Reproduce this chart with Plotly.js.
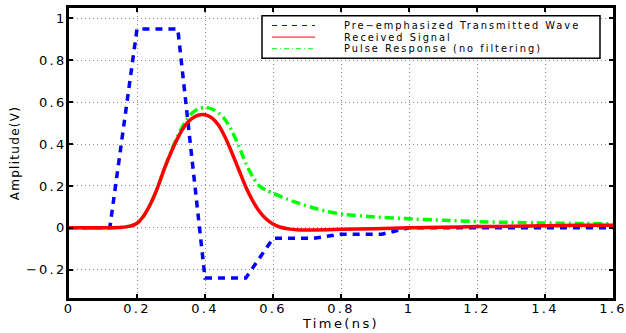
<!DOCTYPE html>
<html>
<head>
<meta charset="utf-8">
<script src="https://cdn.plot.ly/plotly-3.0.1.min.js"></script>
<style>
html,body{margin:0;padding:0;background:#fff;}
#chart{width:626px;height:333px;}
.xtick text, .ytick text { letter-spacing: 2.2px; }
.g-xtitle text { letter-spacing: 2.4px; }
.g-ytitle text { letter-spacing: 1.3px; }
.annotation-text { letter-spacing: 2px; }
</style>
</head>
<body>
<div id="chart"></div>
<script>
// Pre-emphasized transmitted wave (piecewise linear)
var txTime = [0, 0.12, 0.2, 0.32, 0.4, 0.52, 0.6, 0.72, 0.8, 0.92, 1.0, 1.6];
var txAmp  = [0, 0, 0.95, 0.95, -0.24, -0.24, -0.05, -0.05, -0.03, -0.03, 0, 0];

// Received signal
var rxTime = [0, 0.1, 0.15, 0.18, 0.2, 0.22, 0.24, 0.26, 0.28, 0.3, 0.32, 0.34, 0.36, 0.38, 0.4,
              0.42, 0.44, 0.46, 0.48, 0.5, 0.52, 0.54, 0.56, 0.58, 0.6, 0.62, 0.65, 0.68, 0.72,
              0.8, 0.9, 1.0, 1.1, 1.2, 1.3, 1.4, 1.5, 1.6];
var rxAmp  = [0, 0, 0.002, 0.008, 0.022, 0.058, 0.115, 0.19, 0.28, 0.36, 0.43, 0.485, 0.52, 0.538, 0.54,
              0.525, 0.49, 0.43, 0.355, 0.275, 0.195, 0.13, 0.078, 0.042, 0.018, 0.004, -0.006, -0.01, -0.01,
              -0.007, -0.004, 0, 0.003, 0.006, 0.008, 0.01, 0.012, 0.013];

// Pulse response (no filtering)
var prTime = [0, 0.1, 0.15, 0.18, 0.2, 0.22, 0.24, 0.26, 0.28, 0.3, 0.32, 0.34, 0.36, 0.38, 0.4,
              0.42, 0.44, 0.46, 0.48, 0.5, 0.52, 0.54, 0.56, 0.58, 0.6, 0.64, 0.68, 0.72, 0.76,
              0.8, 0.9, 1.0, 1.1, 1.2, 1.3, 1.4, 1.5, 1.6];
var prAmp  = [0, 0, 0.002, 0.008, 0.022, 0.058, 0.115, 0.19, 0.28, 0.365, 0.44, 0.5, 0.545, 0.568, 0.575,
              0.568, 0.548, 0.515, 0.46, 0.39, 0.308, 0.245, 0.2, 0.18, 0.165, 0.138, 0.115, 0.095, 0.078,
              0.066, 0.052, 0.043, 0.036, 0.03, 0.026, 0.023, 0.021, 0.019];

var seriesNames = ['Pre\u2212emphasized Transmitted Wave', 'Received Signal', 'Pulse Response (no filtering)'];
var seriesColors = ['#0000ff', '#ff0000', '#00ff00'];
var xTicks = [0, 0.2, 0.4, 0.6, 0.8, 1, 1.2, 1.4, 1.6];
var yTicks = [-0.2, 0, 0.2, 0.4, 0.6, 0.8, 1];

var fontFam = 'DejaVu Sans, Liberation Sans, Arial, sans-serif';

var traces = [
  {x: txTime, y: txAmp, mode: 'lines', showlegend: false, name: seriesNames[0],
   line: {color: seriesColors[0], width: 3.5, dash: '7px,6px'}},
  {x: prTime, y: prAmp, mode: 'lines', showlegend: false, name: seriesNames[2],
   line: {color: seriesColors[2], width: 3.5, dash: '9px,4px,2px,4px', shape: 'spline', smoothing: 0.6}},
  {x: rxTime, y: rxAmp, mode: 'lines', showlegend: false, name: seriesNames[1],
   line: {color: seriesColors[1], width: 3.5, shape: 'spline', smoothing: 0.6}}
];

// Legend box drawn as in the reference (compact rows, thin sample lines)
var legendDash = ['5px,5px', 'solid', '5px,3px,1px,3px'];
var legRowY = [0.9397, 0.8997, 0.8597];
var shapes = [
  {type: 'rect', xref: 'paper', yref: 'paper', x0: 0.3548, x1: 0.9761, y0: 0.8266, y1: 0.9734,
   fillcolor: '#fff', line: {color: '#000', width: 1.5}, layer: 'above'}
];
var annotations = [];
for (var i = 0; i < seriesNames.length; i++) {
  shapes.push({type: 'line', xref: 'paper', yref: 'paper', x0: 0.3732, x1: 0.4522, y0: legRowY[i], y1: legRowY[i],
               line: {color: seriesColors[i], width: 1, dash: legendDash[i]}, layer: 'above'});
  annotations.push({xref: 'paper', yref: 'paper', x: 0.5037, y: legRowY[i], xanchor: 'left', yanchor: 'middle',
                    align: 'left', borderpad: 0,
                    text: seriesNames[i], showarrow: false, font: {family: fontFam, size: 9.8, color: '#000'}});
}

var axisCommon = {
  showline: true, linewidth: 3, linecolor: '#000', mirror: 'allticks',
  ticks: 'inside', ticklen: 4, tickwidth: 2, tickcolor: '#000',
  showgrid: true, gridcolor: '#8c8c8c', gridwidth: 1, griddash: '1px,3px',
  zeroline: false, ticklabeloverflow: 'allow',
  tickfont: {family: fontFam, size: 13, color: '#000'}
};

var layout = {
  width: 626, height: 333,
  margin: {l: 69, r: 13, t: 8, b: 35},
  paper_bgcolor: '#fff', plot_bgcolor: '#fff',
  font: {family: fontFam, color: '#000'},
  showlegend: false,
  xaxis: Object.assign({}, axisCommon, {
    range: [0, 1.6], tickmode: 'array', tickvals: xTicks, ticklabelstandoff: -4,
    title: {text: 'Time(ns)', font: {family: fontFam, size: 13, color: '#000'}, standoff: 1}
  }),
  yaxis: Object.assign({}, axisCommon, {
    range: [-0.335, 1.05], tickmode: 'array', tickvals: yTicks, ticklabelstandoff: -3,
    title: {text: 'Amplitude(V)', font: {family: fontFam, size: 12, color: '#000'}, standoff: 4}
  }),
  shapes: shapes,
  annotations: annotations
};

Plotly.newPlot('chart', traces, layout, {staticPlot: true, displayModeBar: false});
</script>
</body>
</html>
